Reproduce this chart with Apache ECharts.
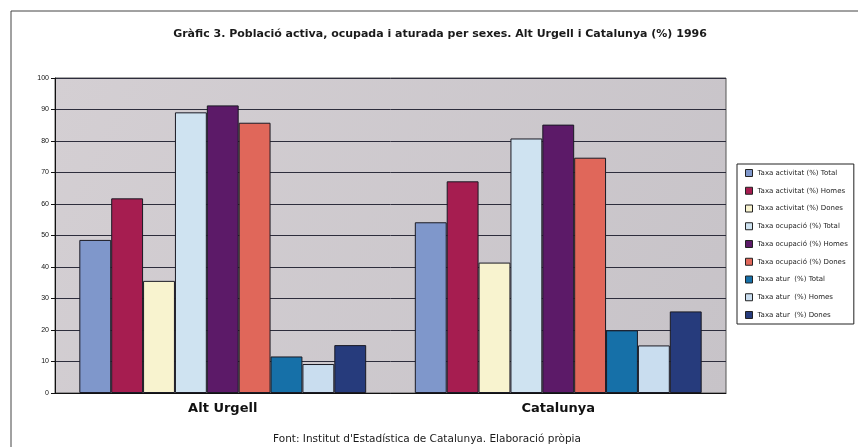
<!DOCTYPE html>
<html>
<head>
<meta charset="utf-8">
<script src="https://cdn.jsdelivr.net/npm/echarts@6/dist/echarts.min.js"></script>
<style>
  html, body { margin: 0; padding: 0; background: #fff; }
  #chart { width: 858px; height: 447px; }
</style>
</head>
<body>
<div id="chart"></div>
<script>
// categories and series
var categories = ['Alt Urgell', 'Catalunya']
var seriesNames = [
  'Taxa activitat (%) Total',
  'Taxa activitat (%) Homes',
  'Taxa activitat (%) Dones',
  'Taxa ocupació (%) Total',
  'Taxa ocupació (%) Homes',
  'Taxa ocupació (%) Dones',
  'Taxa atur  (%) Total',
  'Taxa atur  (%) Homes',
  'Taxa atur  (%) Dones'
]
var activitatTotal = [48.6, 54.2]
var activitatHomes = [61.8, 67.2]
var activitatDones = [35.6, 41.4]
var ocupacioTotal = [89.1, 80.8]
var ocupacioHomes = [91.3, 85.2]
var ocupacioDones = [85.8, 74.7]
var aturTotal = [11.6, 19.9]
var aturHomes = [9.2, 15.1]
var aturDones = [15.2, 25.9]
var yTicks = [0, 10, 20, 30, 40, 50, 60, 70, 80, 90, 100]

var allValues = [activitatTotal, activitatHomes, activitatDones, ocupacioTotal, ocupacioHomes,
  ocupacioDones, aturTotal, aturHomes, aturDones]
var colors = ['#7f97cb', '#a61d50', '#f8f3cf', '#cfe3f1', '#5c1a68', '#e0675a', '#1670a8', '#c9ddef', '#263b7c']

var chart = echarts.init(document.getElementById('chart'), null, { renderer: 'canvas' })

var series = allValues.map(function (vals, i) {
  return {
    name: seriesNames[i],
    type: 'bar',
    data: vals,
    barGap: '0%',
    barCategoryGap: '14.5%',
    itemStyle: { color: colors[i], borderColor: '#1a1a24', borderWidth: 1 }
  }
})

var option = {
  backgroundColor: '#ffffff',
  animation: false,
  color: colors,
  title: [{
    text: 'Gràfic 3. Població activa, ocupada i aturada per sexes. Alt Urgell i Catalunya (%) 1996',
    left: 435, top: 24, textAlign: 'center',
    textStyle: { fontFamily: 'DejaVu Sans', fontSize: 11, fontWeight: 'bold', color: '#1a1a1a' }
  }, {
    text: 'Font: Institut d\'Estadística de Catalunya. Elaboració pròpia',
    left: 422, top: 429, textAlign: 'center',
    textStyle: { fontFamily: 'DejaVu Sans', fontSize: 10.5, fontWeight: 'normal', color: '#1a1a1a' }
  }],
  graphic: [{
    type: 'rect',
    shape: { x: 11, y: 11, width: 900, height: 500 },
    style: { fill: 'none', stroke: '#444', lineWidth: 1 },
    z: -1
  }],
  legend: {
    orient: 'vertical',
    left: 737, top: 164,
    itemWidth: 7, itemHeight: 7, itemGap: 9.75,
    padding: [5, 6, 5, 8],
    borderColor: '#222', borderWidth: 1,
    backgroundColor: '#fff',
    icon: 'rect',
    itemStyle: { borderColor: '#222', borderWidth: 1 },
    textStyle: { fontFamily: 'DejaVu Sans', fontSize: 7, lineHeight: 8, color: '#222' },
    data: seriesNames
  },
  grid: {
    left: 55, right: 132, top: 78, bottom: 54,
    show: true,
    backgroundColor: new echarts.graphic.LinearGradient(0, 0, 1, 1, [
      { offset: 0, color: '#d4cfd3' },
      { offset: 1, color: '#c7c3c8' }
    ]),
    borderColor: '#555', borderWidth: 1
  },
  xAxis: {
    type: 'category',
    data: categories,
    axisLine: { lineStyle: { color: '#111', width: 1 } },
    axisTick: { show: false },
    axisLabel: { margin: 9, fontFamily: 'DejaVu Sans', fontSize: 13, fontWeight: 'bold', color: '#111' }
  },
  yAxis: {
    type: 'value',
    min: yTicks[0], max: yTicks[yTicks.length - 1], interval: 10,
    axisLine: { show: true, lineStyle: { color: '#111' } },
    axisTick: { show: true, length: 4, lineStyle: { color: '#111' } },
    axisLabel: { margin: 6, fontFamily: 'Liberation Sans', fontSize: 7, color: '#111' },
    splitLine: { lineStyle: { color: '#2d2d3c', width: 1 } }
  },
  series: series
}
chart.setOption(option)
</script>
</body>
</html>
